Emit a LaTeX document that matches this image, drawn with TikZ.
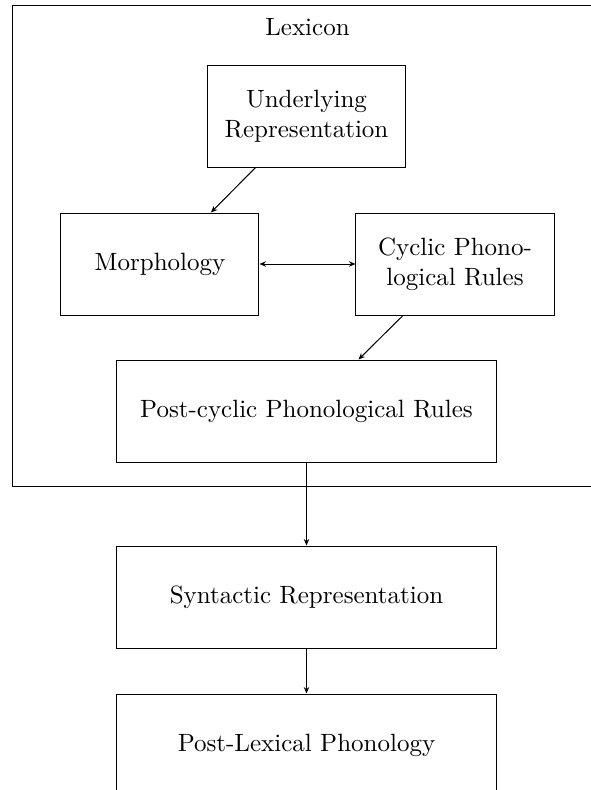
\documentclass[tikz,border=0pt]{standalone}
\usetikzlibrary{positioning, fit, arrows.meta}

\begin{document}
\begin{tikzpicture}[
    node distance=18pt,
    box/.style={
        rectangle,
        draw,
        minimum width=79.2pt,
        minimum height=40.8pt,
        align=center
    },
    widebox/.style={
        box,
        minimum width=152pt
    },
    arrow/.style={
        -{Stealth[length=2.6pt, width=2.2pt]}
    },
    dblarrow/.style={
        {Stealth[length=2.6pt, width=2.2pt]}-{Stealth[length=2.6pt, width=2.2pt]}
    },
    lexframe/.style={
        rectangle,
        draw,
        inner xsep=19.2pt,
        inner ysep=9.6pt
    }
]

\node[box] (ur) {Underlying\\Representation};
\node[box, below=of ur, xshift=-58.6pt] (morph) {Morphology};
\node[box, right=38.4pt of morph] (cyc) {Cyclic Phono-\\logical Rules};
\node[widebox, below=76.8pt of ur] (post) {Post-cyclic Phonological Rules};
\node[widebox, below=33.2pt of post] (syn) {Syntactic Representation};
\node[widebox, below=of syn] (plex) {Post-Lexical Phonology};

% Rahmen des Lexikons
\coordinate[above=14pt of ur.north] (lextop);
\node[lexframe, fit=(lextop)(morph)(cyc)(post)] (lex) {};
\node[below=2pt of lex.north] (lexlabel) {Lexicon};

\draw[arrow] (ur) -- (morph);
\draw[dblarrow] (morph) -- (cyc);
\draw[arrow] (cyc) -- (post);
\draw[arrow] (post) -- (syn);
\draw[arrow] (syn) -- (plex);

\pgfresetboundingbox
\useasboundingbox ([shift={(-4.8pt,2pt)}]lex.north west) rectangle ++(236pt,-316pt);

\end{tikzpicture}
\end{document}
